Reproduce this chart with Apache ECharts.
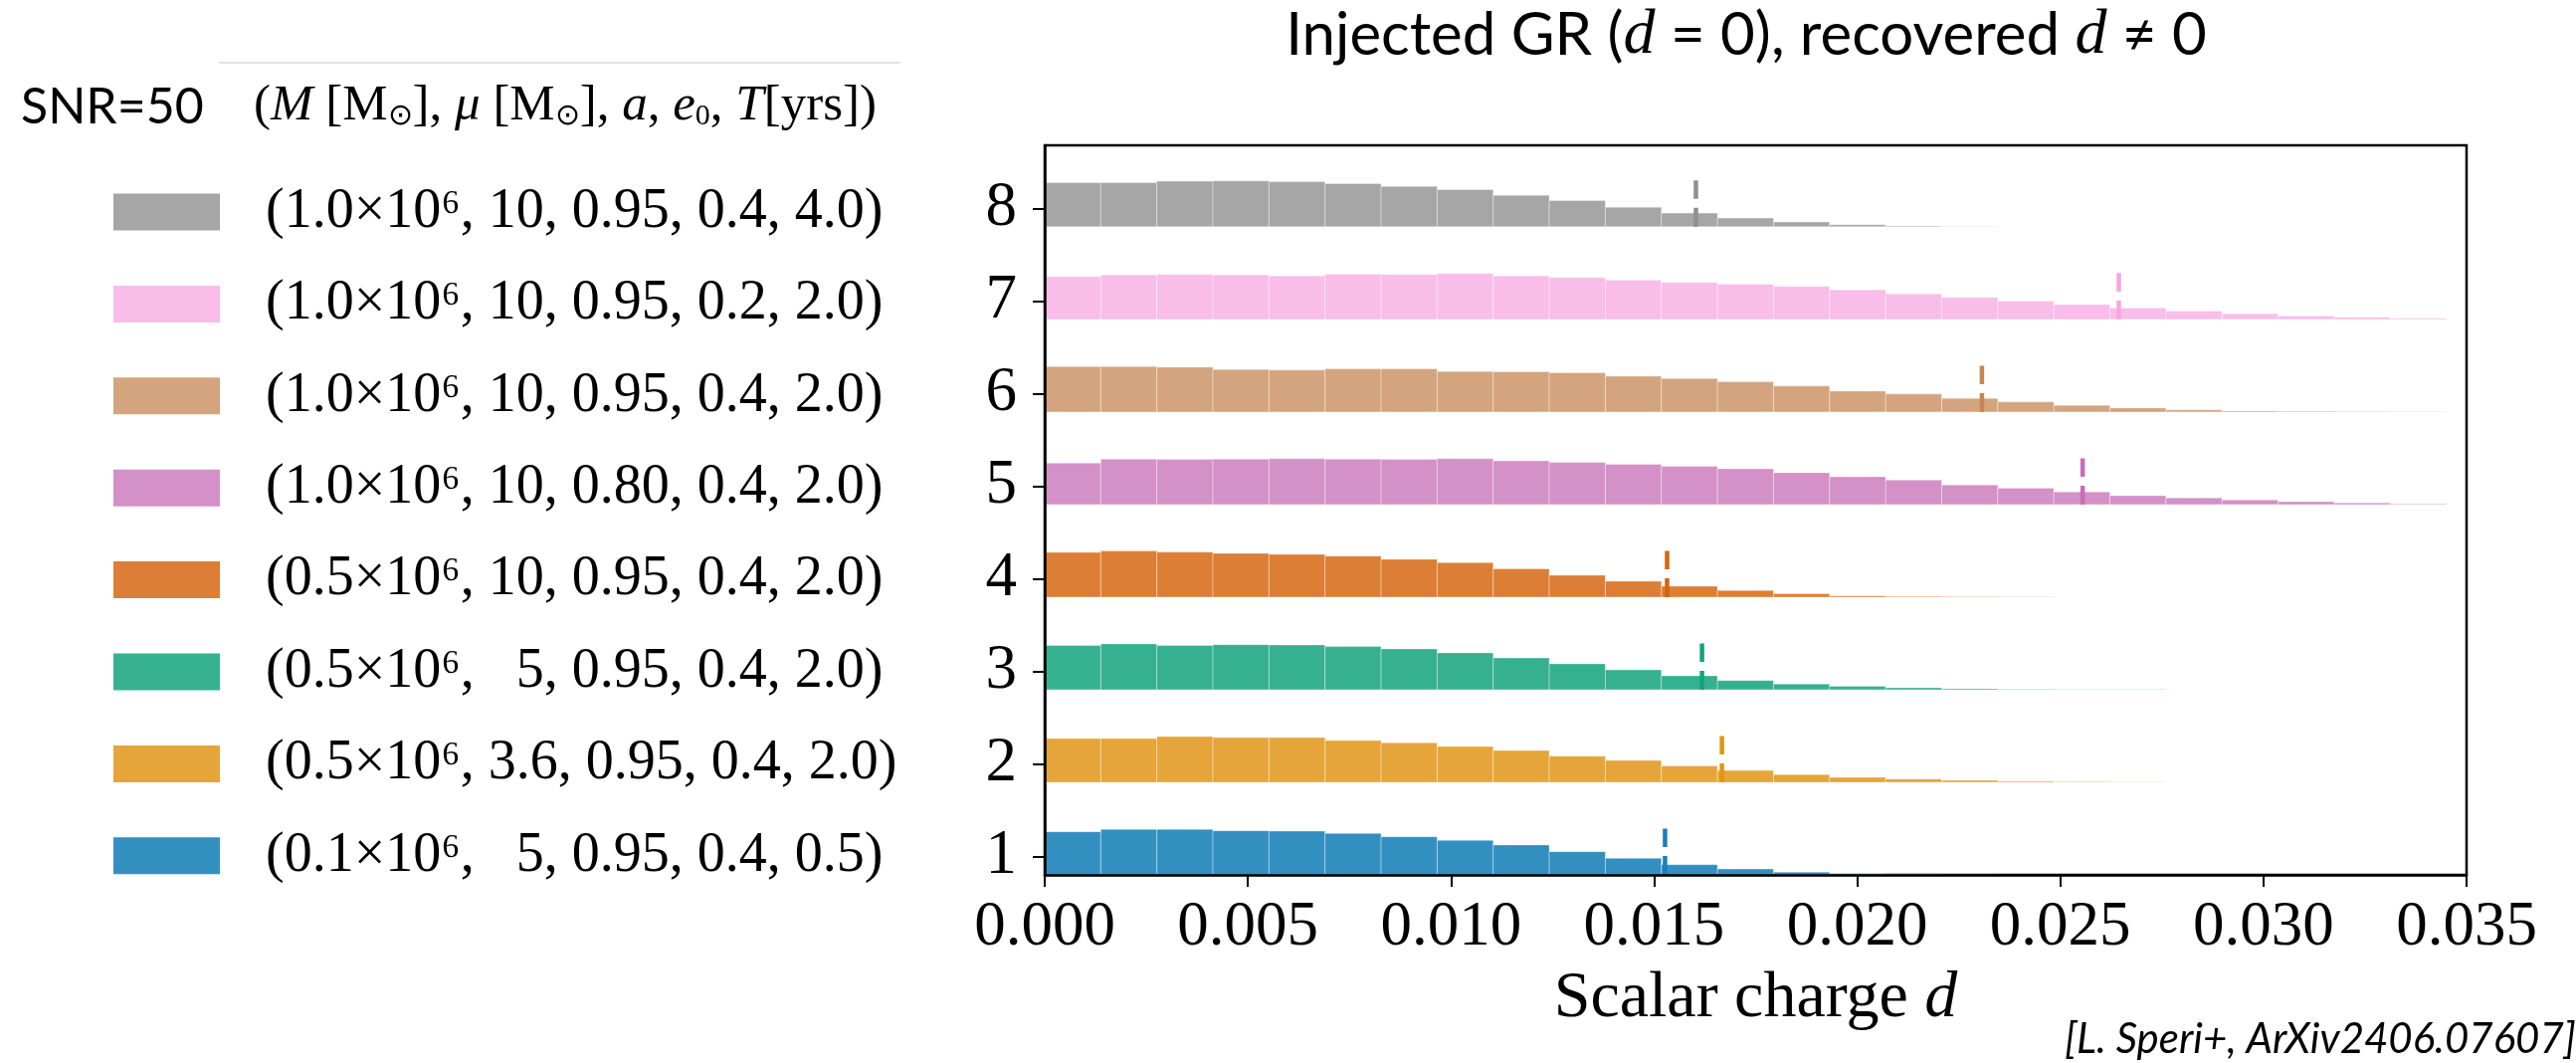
<!DOCTYPE html>
<html>
<head>
<meta charset="utf-8">
<script src="https://cdn.jsdelivr.net/npm/echarts@6/dist/echarts.min.js"></script>
<style>
html,body{margin:0;padding:0;background:#fff;}
#chart{width:2589px;height:1068px;}
</style>
</head>
<body>
<div id="chart"></div>
<script>
// ---------- data ----------
const binEdges = [0, 0.00138, 0.00276, 0.00414, 0.00552, 0.0069, 0.00828, 0.00966, 0.01104, 0.01242,
  0.0138, 0.01518, 0.01656, 0.01794, 0.01932, 0.0207, 0.02208, 0.02346, 0.02484, 0.02622,
  0.0276, 0.02898, 0.03036, 0.03174, 0.03312, 0.0345];

const rows = [1, 2, 3, 4, 5, 6, 7, 8];
const rowTickLabels = ['1', '2', '3', '4', '5', '6', '7', '8'];

const runLabels = [
  '(0.1×10⁶,   5, 0.95, 0.4, 0.5)',
  '(0.5×10⁶, 3.6, 0.95, 0.4, 2.0)',
  '(0.5×10⁶,   5, 0.95, 0.4, 2.0)',
  '(0.5×10⁶, 10, 0.95, 0.4, 2.0)',
  '(1.0×10⁶, 10, 0.80, 0.4, 2.0)',
  '(1.0×10⁶, 10, 0.95, 0.4, 2.0)',
  '(1.0×10⁶, 10, 0.95, 0.2, 2.0)',
  '(1.0×10⁶, 10, 0.95, 0.4, 4.0)'
];

// histogram heights (in row units) per bin
const h1 = [0.466, 0.491, 0.491, 0.477, 0.473, 0.448, 0.412, 0.373, 0.323, 0.251, 0.179, 0.111, 0.064, 0.030, 0.012, 0.004, 0.001, 0, 0, 0, 0, 0, 0, 0, 0];
const h2 = [0.473, 0.473, 0.495, 0.484, 0.484, 0.452, 0.426, 0.387, 0.344, 0.283, 0.237, 0.176, 0.128, 0.084, 0.054, 0.036, 0.021, 0.011, 0.005, 0.002, 0, 0, 0, 0, 0];
const h3 = [0.477, 0.495, 0.477, 0.487, 0.484, 0.466, 0.441, 0.398, 0.344, 0.280, 0.215, 0.151, 0.100, 0.062, 0.037, 0.021, 0.011, 0.005, 0.002, 0.001, 0, 0, 0, 0, 0];
const h4 = [0.484, 0.498, 0.487, 0.473, 0.462, 0.444, 0.409, 0.373, 0.305, 0.237, 0.172, 0.118, 0.072, 0.036, 0.014, 0.007, 0.004, 0.002, 0, 0, 0, 0, 0, 0, 0];
const h5 = [0.448, 0.491, 0.487, 0.491, 0.495, 0.491, 0.487, 0.495, 0.473, 0.455, 0.434, 0.412, 0.387, 0.344, 0.301, 0.265, 0.211, 0.176, 0.136, 0.097, 0.072, 0.050, 0.032, 0.018, 0.007];
const h6 = [0.491, 0.491, 0.484, 0.459, 0.452, 0.466, 0.466, 0.437, 0.434, 0.423, 0.387, 0.362, 0.326, 0.280, 0.226, 0.194, 0.147, 0.108, 0.072, 0.043, 0.022, 0.011, 0.007, 0.004, 0.002];
const h7 = [0.462, 0.480, 0.484, 0.480, 0.470, 0.487, 0.484, 0.495, 0.470, 0.452, 0.423, 0.398, 0.380, 0.355, 0.319, 0.276, 0.237, 0.197, 0.161, 0.122, 0.090, 0.061, 0.036, 0.022, 0.011];
const h8 = [0.476, 0.478, 0.492, 0.495, 0.488, 0.466, 0.437, 0.401, 0.341, 0.283, 0.212, 0.148, 0.094, 0.052, 0.022, 0.008, 0.004, 0.002, 0.001, 0, 0, 0, 0, 0, 0];
const heights = [h1, h2, h3, h4, h5, h6, h7, h8];

// dashed marker positions (scalar charge d)
const markers = [0.01527, 0.01667, 0.01618, 0.01532, 0.02555, 0.02307, 0.02644, 0.01603];

// ---------- styles ----------
const barColors  = ['#348fc1', '#e5a53a', '#36b18f', '#dc7e35', '#d391c7', '#d4a47e', '#f9bde9', '#a6a6a6'];
const dashColors = ['#1a7fb8', '#e0960f', '#12a37c', '#d5650f', '#c96cb8', '#c48652', '#f6a6dc', '#8f8f8f'];
const ridgeBase = 0.2;   // histogram baseline below each row tick
const dashTop = 0.3;     // dashed marker top above each row tick

const serif = 'Liberation Serif';
const sans = 'Lato';

const series = [];
rows.forEach((row, r) => {
  const data = [];
  heights[r].forEach((h, i) => {
    if (h > 0) data.push([binEdges[i], binEdges[i + 1], row - ridgeBase, row - ridgeBase + h]);
  });
  series.push({
    type: 'custom',
    name: runLabels[r],
    data: data,
    encode: { x: [0, 1], y: [2, 3] },
    itemStyle: { color: barColors[r] },
    z: 2,
    silent: true,
    renderItem: function (params, api) {
      const p0 = api.coord([api.value(0), api.value(3)]);
      const p1 = api.coord([api.value(1), api.value(2)]);
      return {
        type: 'rect',
        shape: { x: p0[0], y: p0[1], width: p1[0] - p0[0], height: p1[1] - p0[1] },
        style: { fill: barColors[r], stroke: 'rgba(255,255,255,0.35)', lineWidth: 1 }
      };
    }
  });
  series.push({
    type: 'line',
    name: 'marker ' + row,
    data: [[markers[r], row - ridgeBase], [markers[r], row + dashTop]],
    symbol: 'none',
    showSymbol: false,
    silent: true,
    z: 5,
    lineStyle: { color: dashColors[r], width: 4.5, type: [19, 9], cap: 'butt' }
  });
});

const chart = echarts.init(document.getElementById('chart'), null, { renderer: 'canvas' });
chart.setOption({
  backgroundColor: '#ffffff',
  animation: false,
  grid: {
    left: 1050, right: 110, top: 146, bottom: 189,
    show: true, borderColor: '#000', borderWidth: 2.5, backgroundColor: 'transparent'
  },
  xAxis: {
    type: 'value', min: 0, max: 0.035, interval: 0.005, z: 10,
    axisLine: { show: true, onZero: false, lineStyle: { color: '#000', width: 2.5 } },
    axisTick: { show: true, length: 12, lineStyle: { color: '#000', width: 2 } },
    axisLabel: {
      margin: 22, fontFamily: serif, fontSize: 63, color: '#000',
      showMinLabel: true, showMaxLabel: true,
      formatter: v => v.toFixed(3)
    },
    splitLine: { show: false },
    name: 'Scalar charge {i|d}',
    nameLocation: 'middle',
    nameGap: 92,
    nameTextStyle: {
      fontFamily: serif, fontSize: 66, color: '#000',
      rich: { i: { fontFamily: serif, fontStyle: 'italic', fontSize: 66, color: '#000' } }
    }
  },
  yAxis: {
    type: 'value', min: 0.8, max: 8.68, z: 10,
    axisLine: { show: true, onZero: false, lineStyle: { color: '#000', width: 2.5 } },
    axisTick: { show: true, length: 12, customValues: rows, lineStyle: { color: '#000', width: 2 } },
    axisLabel: {
      margin: 28, customValues: rows, fontFamily: serif, fontSize: 63, color: '#000',
      formatter: v => rowTickLabels[rows.indexOf(Math.round(v))]
    },
    splitLine: { show: false }
  },
  legend: {
    orient: 'vertical', left: 114, top: 185, padding: 0,
    itemWidth: 107, itemHeight: 37, itemGap: 36.4, icon: 'rect',
    selectedMode: false,
    data: runLabels.slice().reverse(),
    textStyle: {
      fontFamily: serif, fontSize: 56, color: '#000', lineHeight: 37,
      padding: [0, 0, 0, 41]
    }
  },
  graphic: [
    { type: 'line', shape: { x1: 220, y1: 63, x2: 905, y2: 63 }, style: { stroke: '#e3e3e3', lineWidth: 2 } },
    { type: 'text', x: 21, y: 108,
      style: { text: 'SNR=50', fontFamily: sans, fontSize: 50, fill: '#000', verticalAlign: 'middle' } },
    { type: 'text', x: 255, y: 107,
      style: {
        text: '{n|(}{i|M}{n| [M}{s|⊙}{n|], }{i|μ}{n| [M}{s|⊙}{n|], }{i|a}{n|, }{i|e}{s|0}{n|, }{i|T}{n|[yrs])}',
        verticalAlign: 'middle', fill: '#000',
        rich: {
          n: { fontFamily: serif, fontSize: 51, lineHeight: 50, fill: '#000', color: '#000' },
          i: { fontFamily: serif, fontStyle: 'italic', fontSize: 51, lineHeight: 50, fill: '#000', color: '#000' },
          s: { fontFamily: serif, fontSize: 30, lineHeight: 20, verticalAlign: 'bottom', fill: '#000', color: '#000' }
        }
      } },
    { type: 'text', x: 1755, y: 36,
      style: {
        text: '{n|Injected GR (}{i|d}{n| = 0), recovered }{i|d}{n| ≠ 0}',
        align: 'center', verticalAlign: 'middle', fill: '#000',
        rich: {
          n: { fontFamily: sans, fontSize: 60, fill: '#000', color: '#000' },
          i: { fontFamily: serif, fontStyle: 'italic', fontSize: 64, fill: '#000', color: '#000' }
        }
      } },
    { type: 'text', x: 2589, y: 1044,
      style: { text: '[L. Speri+, ArXiv2406.07607]', fontFamily: sans, fontStyle: 'italic', fontSize: 42,
        fill: '#000', align: 'right', verticalAlign: 'middle' } }
  ],
  series: series
});
</script>
</body>
</html>
